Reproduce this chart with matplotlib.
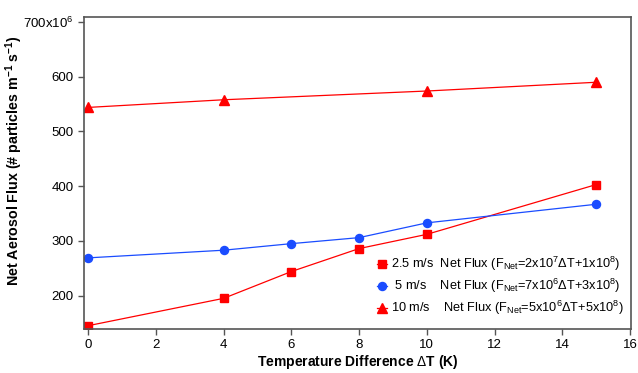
import numpy as np
import matplotlib.pyplot as plt

plt.rcParams['font.family'] = ['Liberation Sans', 'DejaVu Sans']
plt.rcParams['mathtext.fontset'] = 'custom'
plt.rcParams['mathtext.rm'] = 'Liberation Sans'
plt.rcParams['mathtext.bf'] = 'Liberation Sans:bold'

dt_25 = [0, 4, 6, 8, 10, 15]
flux_25 = [145, 195, 244, 286, 312, 403]
dt_5 = [0, 4, 6, 8, 10, 15]
flux_5 = [269, 283, 295, 306, 333, 367]
dt_10 = [0, 4, 10, 15]
flux_10 = [544, 558, 574, 590]

labels = [r'2.5 m/s  Net Flux (F$_{\mathrm{Net}}$=2x10$^{7}$$\Delta$T+1x10$^{8}$)',
          r' 5 m/s    Net Flux (F$_{\mathrm{Net}}$=7x10$^{6}$$\Delta$T+3x10$^{8}$)',
          r'10 m/s    Net Flux (F$_{\mathrm{Net}}$=5x10$^{6}$$\Delta$T+5x10$^{8}$)']

fig = plt.figure(figsize=(6.38, 3.73), dpi=100)
ax = fig.add_axes([0.1317, 0.118, 0.857, 0.836])

ax.plot(dt_25, flux_25, color='#ff0000', lw=0.9, marker='s', ms=5.5, label=labels[0])
ax.plot(dt_5, flux_5, color='#1a4cff', lw=0.9, marker='o', ms=5.8, label=labels[1])
ax.plot(dt_10, flux_10, color='#ff0000', lw=0.9, marker='^', ms=6.5, label=labels[2])

ax.set_xlim(-0.12, 16.02)
ax.set_ylim(139, 709)
ax.set_xticks(np.arange(0, 17, 2))
ax.set_yticks([200, 300, 400, 500, 600, 700])
ax.set_yticklabels(['200', '300', '400', '500', '600', r'700x10$^{6}$'])
for s in ax.spines.values():
    s.set_color('#555555')
    s.set_linewidth(1.2)
ax.tick_params(direction='out', length=4, width=1, colors='#555555', labelcolor='black', labelsize=9.5)

ax.set_xlabel(r'Temperature Difference $\Delta$T (K)', fontsize=10, fontweight='bold', labelpad=1)
ax.set_ylabel(r'Net Aerosol Flux (# particles m$^{\mathbf{-1}}$ s$^{\mathbf{-1}}$)', fontsize=10.3, fontweight='bold')
ax.yaxis.set_label_coords(-0.108, 0.54)

ax.legend(loc='lower right', bbox_to_anchor=(1.008, 0.0), frameon=False, fontsize=9.2,
          handlelength=0.8, handletextpad=0.3, labelspacing=0.3)

fig.savefig('out.png', dpi=100)
